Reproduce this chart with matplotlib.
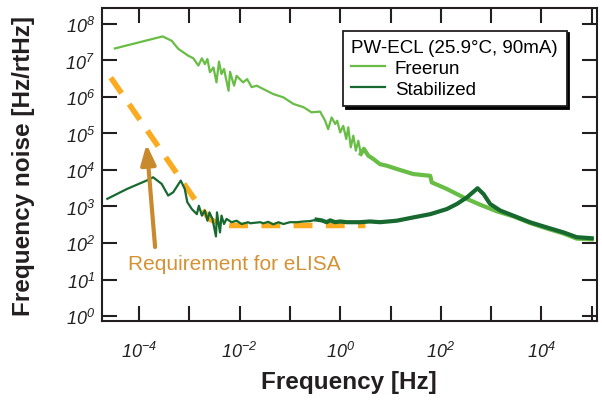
import numpy as np
import matplotlib
matplotlib.use("Agg")
import matplotlib.pyplot as plt
from matplotlib.ticker import FixedLocator, FuncFormatter, NullLocator

plt.rcParams['font.family'] = ['Liberation Sans', 'DejaVu Sans']
plt.rcParams['mathtext.fontset'] = 'custom'
plt.rcParams['mathtext.rm'] = 'Liberation Sans:italic'
plt.rcParams['mathtext.it'] = 'Liberation Sans:italic'

# exponents (log10)
free_f = [-4.48, -3.53, -3.35, -3.22, -3.02, -2.92, -2.82, -2.75, -2.69, -2.64, -2.59, -2.52,
          -2.46, -2.41, -2.36, -2.31, -2.22, -2.19, -2.14, -2.11, -2.06, -1.99, -1.93, -1.85,
          -1.76, -1.66, -1.46, -1.33, -1.13, -0.93, -0.73, -0.57, -0.40, -0.30, -0.24, -0.17,
          -0.10, -0.06, 0.00, 0.06, 0.12, 0.16, 0.21, 0.26, 0.31, 0.36, 0.41, 0.47, 0.56, 0.66,
          0.79, 0.92, 1.12, 1.45, 1.79, 1.82, 2.12, 2.45, 2.78, 3.11, 3.44, 3.77, 4.10, 4.44,
          4.70, 5.00]
free_n = [7.33, 7.66, 7.54, 7.32, 7.13, 7.06, 6.86, 7.06, 6.90, 7.04, 6.68, 6.81,
          6.40, 6.97, 6.63, 6.77, 6.17, 6.69, 6.45, 6.31, 6.58, 6.48, 6.40, 6.49,
          6.27, 6.31, 6.17, 6.08, 5.99, 5.81, 5.72, 5.58, 5.60, 5.35, 5.12, 5.44,
          5.26, 5.35, 5.03, 5.21, 4.85, 5.17, 4.62, 4.94, 4.53, 4.80, 4.44, 4.58, 4.39, 4.30,
          4.16, 4.12, 4.03, 3.89, 3.84, 3.66, 3.48, 3.25, 3.05, 2.87, 2.73, 2.55, 2.40, 2.26,
          2.12, 2.10]

stab_f = [-4.63, -4.24, -3.85, -3.72, -3.55, -3.42, -3.32, -3.17, -3.09, -3.04, -2.95, -2.85,
          -2.81, -2.75, -2.69, -2.64, -2.60, -2.54, -2.47, -2.45, -2.39, -2.36, -2.31, -2.26,
          -2.16, -2.06, -1.96, -1.83, -1.79, -1.59, -1.53, -1.43, -1.33, -1.23, -1.13, -1.00,
          -0.86, -0.73, -0.60, -0.47, -0.37, -0.27, -0.20, -0.10, 0.00, 0.13, 0.39, 0.59,
          0.79, 1.12, 1.45, 1.79, 2.12, 2.32, 2.52, 2.73, 2.85, 2.98, 3.18, 3.44, 3.77, 4.10,
          4.44, 4.70, 5.00]
stab_n = [3.21, 3.48, 3.71, 3.80, 3.62, 3.30, 3.39, 3.71, 3.48, 3.12, 2.93, 2.79,
          3.02, 2.75, 2.89, 2.61, 2.84, 2.66, 2.18, 2.84, 2.29, 2.75, 2.52, 2.66,
          2.57, 2.61, 2.52, 2.57, 2.54, 2.57, 2.54, 2.58, 2.51, 2.57, 2.52, 2.57,
          2.57, 2.59, 2.60, 2.64, 2.62, 2.57, 2.62, 2.57, 2.59, 2.57, 2.57, 2.59,
          2.57, 2.61, 2.70, 2.79, 2.93, 3.07, 3.25, 3.50, 3.34, 3.07, 2.89, 2.75, 2.57, 2.43,
          2.29, 2.16, 2.13]

req_f = [-4.56, -2.80, -2.60, -2.40, -2.20, 0.50]
req_n = [6.53, 3.01, 2.66, 2.52, 2.48, 2.48]

free_f = 10 ** np.array(free_f)
free_n = 10 ** np.array(free_n)
stab_f = 10 ** np.array(stab_f)
stab_n = 10 ** np.array(stab_n)
req_f = 10 ** np.array(req_f)
req_n = 10 ** np.array(req_n)

c_free = '#68bd45'
c_stab = '#17692f'
c_req = '#fbab1f'

fig = plt.figure(figsize=(6.02, 4.02), dpi=100)
ax = fig.add_axes([0.1694, 0.199, 0.8223, 0.7786])

ax.plot(req_f, req_n, color=c_req, lw=4, linestyle=(0, (3.4, 2.4)), zorder=1)

ax.plot(free_f, free_n, color=c_free, lw=1.6, zorder=2, label='Freerun')
m = free_f >= 10 ** 0.4
ax.plot(free_f[m], free_n[m], color=c_free, lw=3, zorder=2)

ax.plot(stab_f, stab_n, color=c_stab, lw=1.6, zorder=3, label='Stabilized')
m = stab_f >= 10 ** -0.5
ax.plot(stab_f[m], stab_n[m], color=c_stab, lw=3, zorder=3)

ax.set_xscale('log')
ax.set_yscale('log')
ax.set_xlim(10 ** -4.736, 10 ** 5.105)
ax.set_ylim(10 ** -0.137, 10 ** 8.438)

ax.xaxis.set_major_locator(FixedLocator([10.0 ** k for k in range(-4, 6)]))
ax.yaxis.set_major_locator(FixedLocator([10.0 ** k for k in range(0, 9)]))
ax.xaxis.set_minor_locator(NullLocator())
ax.yaxis.set_minor_locator(NullLocator())


def xfmt(v, pos):
    k = int(round(np.log10(v)))
    if k % 2 == 0 and k < 5:
        return r'$\mathit{10^{%d}}$' % k
    return ''


def yfmt(v, pos):
    k = int(round(np.log10(v)))
    return r'$\mathit{10^{%d}}$' % k


ax.xaxis.set_major_formatter(FuncFormatter(xfmt))
ax.yaxis.set_major_formatter(FuncFormatter(yfmt))

ax.tick_params(which='major', direction='in', length=10.5, width=1.5, colors='#231f20',
               labelsize=13, top=True, right=True)
ax.tick_params(axis='x', pad=14)
ax.tick_params(axis='y', pad=5)
for s in ax.spines.values():
    s.set_linewidth(1.5)
    s.set_color('#231f20')

ax.set_xlabel('Frequency [Hz]', fontsize=17.5, fontweight='bold', color='#231f20')
ax.set_ylabel('Frequency noise [Hz/rtHz]', fontsize=17.5, fontweight='bold', color='#231f20')
ax.xaxis.set_label_coords(0.499, -0.155)
ax.yaxis.set_label_coords(-0.135, 0.50)

leg = ax.legend(title='PW-ECL (25.9°C, 90mA)', loc='upper left', bbox_to_anchor=(0.487, 0.928),
                borderaxespad=0, frameon=True, fancybox=False, fontsize=13.5,
                title_fontsize=13.5, handlelength=1.8, handletextpad=0.5,
                borderpad=0.45, labelspacing=0.2, alignment='left',
                shadow={'color': 'black', 'alpha': 1})
leg.get_frame().set_edgecolor('#231f20')
leg.get_frame().set_linewidth(1.3)

ax.annotate('', xy=(10 ** -3.85, 10 ** 4.71), xytext=(10 ** -3.68, 10 ** 1.89),
            arrowprops=dict(arrowstyle='-|>,head_length=1.2,head_width=0.45', color='#c98a2e',
                            lw=3, shrinkA=0, shrinkB=0), zorder=4)
ax.text(10 ** -4.22, 10 ** 1.45, 'Requirement for eLISA', color='#d49235', fontsize=15,
        va='center', ha='left')

fig.savefig('out.png', dpi=100)
